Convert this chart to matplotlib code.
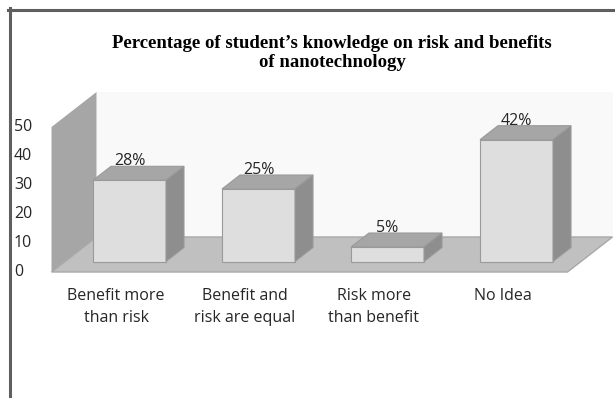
import matplotlib
matplotlib.use('Agg')
import matplotlib.pyplot as plt
from matplotlib.patches import Polygon
from matplotlib.lines import Line2D

# chart data
categories = ['Benefit more\nthan risk', 'Benefit and\nrisk are equal',
              'Risk more\nthan benefit', 'No Idea']
values = [28, 25, 5, 42]
value_labels = ['28%', '25%', '5%', '42%']
yticks = [0, 10, 20, 30, 40, 50]

W, H = 615, 398
# pixel scale of the front plane
PX_CAT = 129.0     # pixels per category
PX_VAL = 2.9       # pixels per value unit
X0 = 116.0         # pixel x of first category (front plane)
Y0 = 272.0         # pixel y (from top) of value 0 (front plane)
# depth of the 3D box in data units
DX = 45.0 / PX_CAT
DY = 35.0 / PX_VAL
T0, T1 = 0.3, 0.7  # bar front / back depth
BW = 73.0 / PX_CAT
YMAX = 50
FONT = 'Open Sans'
FS = 11.5

fig = plt.figure(figsize=(W / 100, H / 100), dpi=100)
ax = fig.add_axes([0, 0, 1, 1])
ax.set_xlim(-X0 / PX_CAT, (W - X0) / PX_CAT)
ax.set_ylim(-(H - Y0) / PX_VAL, Y0 / PX_VAL)
ax.axis('off')


def p(c, v, t):
    return (c + t * DX, v + t * DY)


def face(pts, color, z, ec='none', lw=0.0):
    ax.add_patch(Polygon(pts, closed=True, fc=color, ec=ec, lw=lw, zorder=z))


xl, xr = -0.5, len(values) - 0.5
# back wall
face([p(xl, 0, 1), p(xr, 0, 1), p(xr, YMAX, 1), p(xl, YMAX, 1)], '#f9f9f9', 1)
# left wall
face([p(xl, 0, 0), p(xl, 0, 1), p(xl, YMAX, 1), p(xl, YMAX, 0)], '#a6a6a6', 2)
# floor
face([p(xl, 0, 0), p(xr, 0, 0), p(xr, 0, 1), p(xl, 0, 1)], '#c0c0c0', 2,
     ec='#a8a8a8', lw=1.0)

for i, v in enumerate(values):
    l, r = i - BW / 2, i + BW / 2
    ec = '#9a9a9a'
    face([p(l, 0, T0), p(r, 0, T0), p(r, v, T0), p(l, v, T0)], '#dedede', 3, ec, 0.8)
    face([p(l, v, T0), p(r, v, T0), p(r, v, T1), p(l, v, T1)], '#a6a6a6', 3, ec, 0.8)
    face([p(r, 0, T0), p(r, v, T0), p(r, v, T1), p(r, 0, T1)], '#8e8e8e', 3, ec, 0.8)
    tx, ty = p(i, v, T0)[0], p(i, v, T1)[1]
    ax.text(tx, ty + 0.3, value_labels[i], ha='center', va='baseline',
            fontsize=FS, family=FONT, color='#262626', zorder=5)

for i, lab in enumerate(categories):
    ax.text(i, -16.0 / PX_VAL, lab, ha='center', va='top', fontsize=FS,
            family=FONT, color='#262626', linespacing=1.5)

for t in yticks:
    ax.text((14 - X0) / PX_CAT, t, str(t), ha='left', va='center',
            fontsize=FS, family=FONT, color='#262626')

fig.text(332 / W, 1 - 53 / H,
         'Percentage of student\u2019s knowledge on risk and benefits\nof nanotechnology',
         ha='center', va='center', fontsize=13.5, fontweight='bold',
         family='Liberation Serif', linespacing=1.15)

# chart border (top and left)
fig.add_artist(Line2D([8 / W, 1], [1 - 9.5 / H] * 2, transform=fig.transFigure,
                      color='#5f5f5f', lw=2.2))
fig.add_artist(Line2D([9.5 / W] * 2, [0, 1 - 8 / H], transform=fig.transFigure,
                      color='#5f5f5f', lw=2.2))

fig.savefig('out.png', dpi=100)
